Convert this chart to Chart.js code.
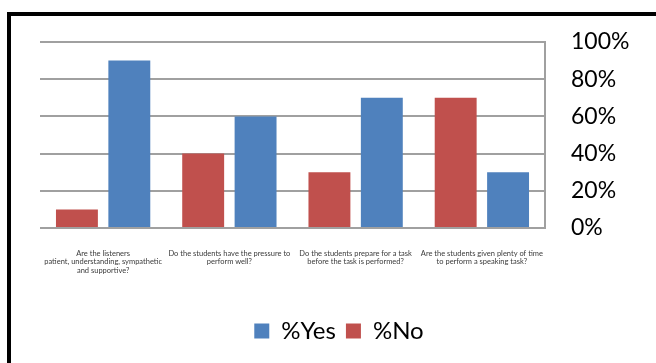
<!DOCTYPE html>
<html>
<head>
<meta charset="utf-8">
<script src="https://cdn.jsdelivr.net/npm/chart.js@4.4.1/dist/chart.umd.min.js"></script>
<style>
  html, body { margin: 0; padding: 0; background: #fff; overflow: hidden; width: 656px; height: 363px; }
  #frame { position: absolute; left: 7px; top: 12px; width: 720px; height: 420px; border: 4px solid #000; box-sizing: border-box; }
  #wrap { position: absolute; left: 11px; top: 16px; width: 627px; height: 347px; }
  canvas { display: block; }
</style>
</head>
<body>
<div id="frame"></div>
<div id="wrap"><canvas id="c" width="627" height="347"></canvas></div>
<script>
const categories = [
  ["Are the listeners", "patient, understanding, sympathetic", "and supportive?"],
  ["Do the students have the pressure to", "perform well?"],
  ["Do the students prepare for a task", "before the task is performed?"],
  ["Are the students given plenty of time", "to perform a speaking task?"]
];
const noValues = [10, 40, 30, 70];
const yesValues = [90, 60, 70, 30];
const seriesNames = ["%No", "%Yes"];
const yTickValues = [0, 20, 40, 60, 80, 100];

new Chart(document.getElementById('c'), {
  type: 'bar',
  data: {
    labels: categories,
    datasets: [
      { label: seriesNames[0], data: noValues, backgroundColor: '#C0504D', categoryPercentage: 0.83, barPercentage: 0.8 },
      { label: seriesNames[1], data: yesValues, backgroundColor: '#4F81BD', categoryPercentage: 0.83, barPercentage: 0.8 }
    ]
  },
  options: {
    responsive: false,
    animation: false,
    devicePixelRatio: 1,
    layout: { padding: { left: 29, top: 26, right: 0, bottom: 10 } },
    plugins: {
      tooltip: { enabled: false },
      legend: {
        position: 'bottom',
        reverse: true,
        labels: {
          boxWidth: 15, boxHeight: 15, padding: 10,
          color: '#000',
          font: { family: 'Lato', size: 24 }
        }
      }
    },
    scales: {
      x: {
        grid: { display: false, drawTicks: false },
        border: { display: false },
        ticks: {
          autoSkip: false, maxRotation: 0, minRotation: 0, padding: 21,
          color: '#3a3a3a',
          font: { family: 'Lato', size: 7.5, lineHeight: 1.13 }
        },
        afterFit: s => { s.height = 81; s.paddingLeft = 0; s.paddingRight = 0; }
      },
      y: {
        position: 'right',
        min: 0, max: 100,
        afterBuildTicks: s => { s.ticks = yTickValues.map(v => ({ value: v })); },
        grid: { color: '#a0a0a0', lineWidth: 2, drawTicks: false },
        border: { display: true, color: '#a0a0a0', width: 2 },
        ticks: {
          padding: 26,
          color: '#000',
          font: { family: 'Lato', size: 23 },
          callback: v => v + '%'
        },
        afterFit: s => { s.width = 93; s.paddingTop = 0; s.paddingBottom = 0; }
      }
    }
  }
});
</script>
</body>
</html>
